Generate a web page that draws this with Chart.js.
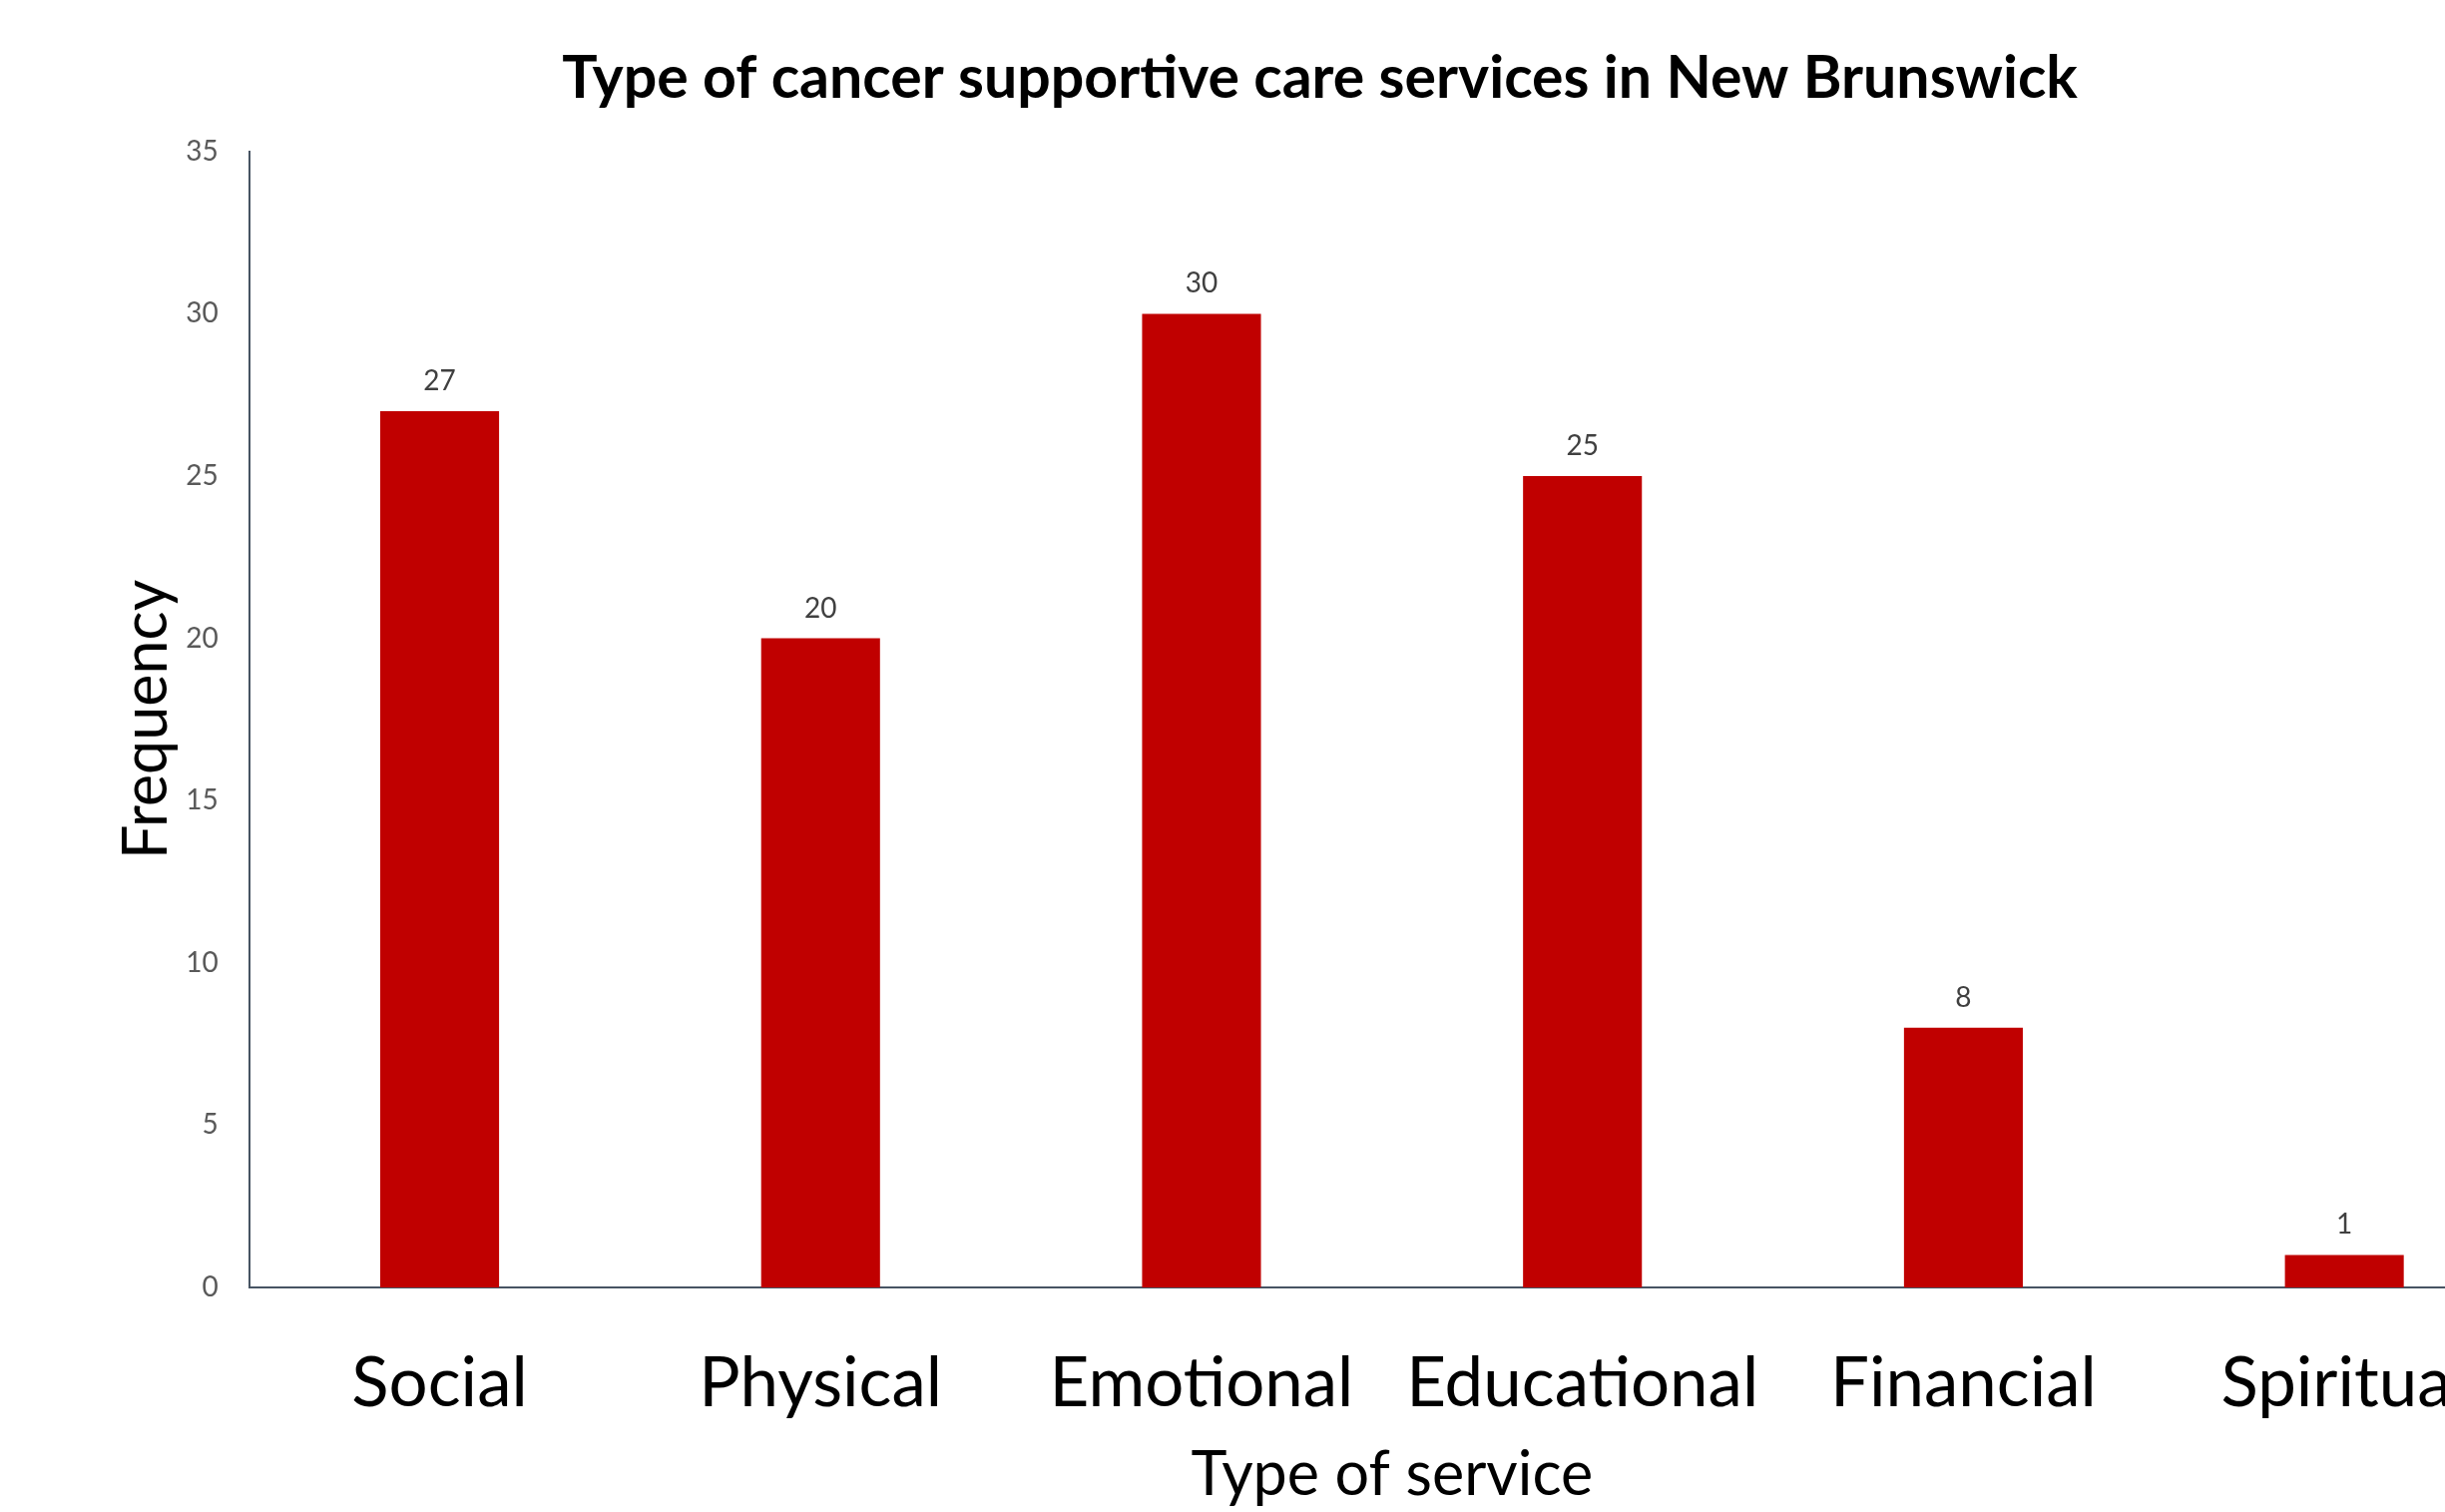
<!DOCTYPE html>
<html>
<head>
<meta charset="utf-8">
<script src="https://cdn.jsdelivr.net/npm/chart.js@4.4.1/dist/chart.umd.min.js"></script>
<style>
  html, body { margin: 0; padding: 0; background: #ffffff; overflow: hidden; }
  #wrap { width: 2634px; height: 1515px; }
</style>
</head>
<body>
<div id="wrap"><canvas id="grafico" width="2634" height="1515"></canvas></div>
<script>
// dados do grafico
const tipos = ['Social', 'Physical', 'Emotional', 'Educational', 'Financial', 'Spiritual'];
const frequencias = [27, 20, 30, 25, 8, 1];
const ticksY = [0, 5, 10, 15, 20, 25, 30, 35];

const fonte = 'Lato, "Noto Sans", sans-serif';

// escreve o valor em cima de cada barra
const rotulosBarras = {
  id: 'rotulosBarras',
  afterDatasetsDraw(chart) {
    const ctx = chart.ctx;
    const meta = chart.getDatasetMeta(0);
    ctx.save();
    ctx.font = '28px ' + fonte;
    ctx.fillStyle = '#404040';
    ctx.textAlign = 'center';
    ctx.textBaseline = 'alphabetic';
    meta.data.forEach((barra, i) => {
      ctx.fillText(String(frequencias[i]), barra.x, barra.y - 21);
    });
    ctx.restore();
  }
};

const ctx = document.getElementById('grafico').getContext('2d');
new Chart(ctx, {
  type: 'bar',
  data: {
    labels: tipos,
    datasets: [{
      data: frequencias,
      backgroundColor: '#C00000',
      borderWidth: 0,
      categoryPercentage: 1,
      barPercentage: 0.312
    }]
  },
  options: {
    responsive: false,
    animation: false,
    devicePixelRatio: 1,
    layout: { padding: { left: 105, right: 94, top: 0, bottom: 0 } },
    plugins: {
      legend: { display: false },
      tooltip: { enabled: false },
      title: {
        display: true,
        text: 'Type of cancer supportive care services in New Brunswick',
        color: '#000000',
        font: { family: fonte, size: 59, weight: 'bold' },
        padding: { top: 44, bottom: 37 }
      }
    },
    scales: {
      x: {
        grid: { display: false, drawTicks: false },
        border: { display: true, color: '#475463', width: 2 },
        ticks: {
          color: '#000000',
          font: { family: fonte, size: 69 },
          padding: 55,
          maxRotation: 0,
          autoSkip: false
        },
        title: {
          display: true,
          text: 'Type of service',
          color: '#000000',
          font: { family: fonte, size: 61 },
          padding: { top: -41, bottom: 0 }
        }
      },
      y: {
        min: 0,
        max: ticksY[ticksY.length - 1],
        grid: { display: false, drawTicks: false },
        border: { display: true, color: '#475463', width: 2 },
        afterBuildTicks: (eixo) => { eixo.ticks = ticksY.map(v => ({ value: v })); },
        ticks: {
          color: '#595959',
          font: { family: fonte, size: 28 },
          padding: 31
        },
        title: {
          display: true,
          text: 'Frequency',
          color: '#000000',
          font: { family: fonte, size: 61 },
          padding: { top: 6, bottom: -29 }
        }
      }
    }
  },
  plugins: [rotulosBarras]
});
</script>
</body>
</html>
